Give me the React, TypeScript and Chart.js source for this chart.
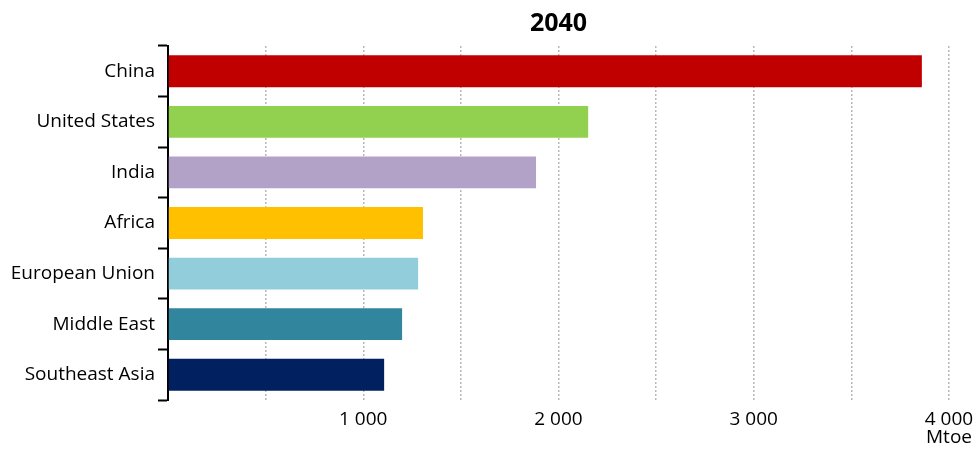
import React, { useEffect, useRef } from "react";
import { Chart, registerables } from "chart.js";

Chart.register(...registerables);

const categories = ["China", "United States", "India", "Africa", "European Union", "Middle East", "Southeast Asia"];
const values = [3861, 2152, 1885, 1306, 1281, 1199, 1107];
const colors = ["#C00000", "#92D050", "#B3A2C7", "#FFC000", "#92CDDC", "#31859C", "#002060"];
const xTickValues = [1000, 2000, 3000, 4000];
const xTickLabels = ["1 000", "2 000", "3 000", "4 000"];
const unitLabel = "Mtoe";
const titleText = "2040";

const FONT = "'Open Sans', sans-serif";

export default function App() {
  const ref = useRef<HTMLCanvasElement | null>(null);
  useEffect(() => {
    document.body.style.margin = "0";
    if (!ref.current) return;
    const chart = new Chart(ref.current, {
      type: "bar",
      data: {
        labels: categories,
        datasets: [
          {
            data: values,
            backgroundColor: colors,
            borderWidth: 0,
            categoryPercentage: 1,
            barPercentage: 0.63,
          },
        ],
      },
      options: {
        indexAxis: "y",
        animation: false,
        responsive: false,
        maintainAspectRatio: false,
        layout: { padding: { left: 0, right: 29, top: 0, bottom: 0 } },
        plugins: {
          legend: { display: false },
          tooltip: { enabled: false },
          title: {
            display: true,
            text: titleText,
            fullSize: false,
            color: "#000",
            font: { family: FONT, size: 25, weight: "bold", lineHeight: 1.2 },
            padding: { top: 9, bottom: 7 },
          },
        },
        scales: {
          x: {
            min: 0,
            max: 4000,
            border: { display: false, dash: [2, 2] },
            grid: {
              color: "#b8b8b8",
              lineWidth: 1.5,
              drawTicks: false,
            },
            afterFit: (s: any) => {
              s.height = 53;
              s.paddingRight = 0;
              s.paddingLeft = 0;
            },
            ticks: {
              stepSize: 500,
              autoSkip: false,
              maxRotation: 0,
              padding: 11,
              color: "#000",
              font: { family: FONT, size: 19, lineHeight: "18px" },
              callback: (v: any) => {
                const i = xTickValues.indexOf(Number(v));
                if (i < 0) return "";
                if (Number(v) === 4000) return [xTickLabels[i], unitLabel];
                return xTickLabels[i];
              },
            },
          },
          y: {
            border: { display: true, color: "#000", width: 2 },
            afterFit: (s: any) => {
              s.width = 168;
            },
            grid: {
              display: true,
              drawOnChartArea: false,
              drawTicks: true,
              tickLength: 10,
              tickColor: "#000",
              tickWidth: 2,
              offset: true,
            },
            ticks: {
              padding: 3,
              color: "#000",
              font: { family: FONT, size: 19 },
            },
          },
        },
      },
    } as any);
    return () => chart.destroy();
  }, []);
  return (
    <div style={{ width: 978, height: 453 }}>
      <canvas ref={ref} width={978} height={453} style={{ width: 978, height: 453 }} />
    </div>
  );
}
